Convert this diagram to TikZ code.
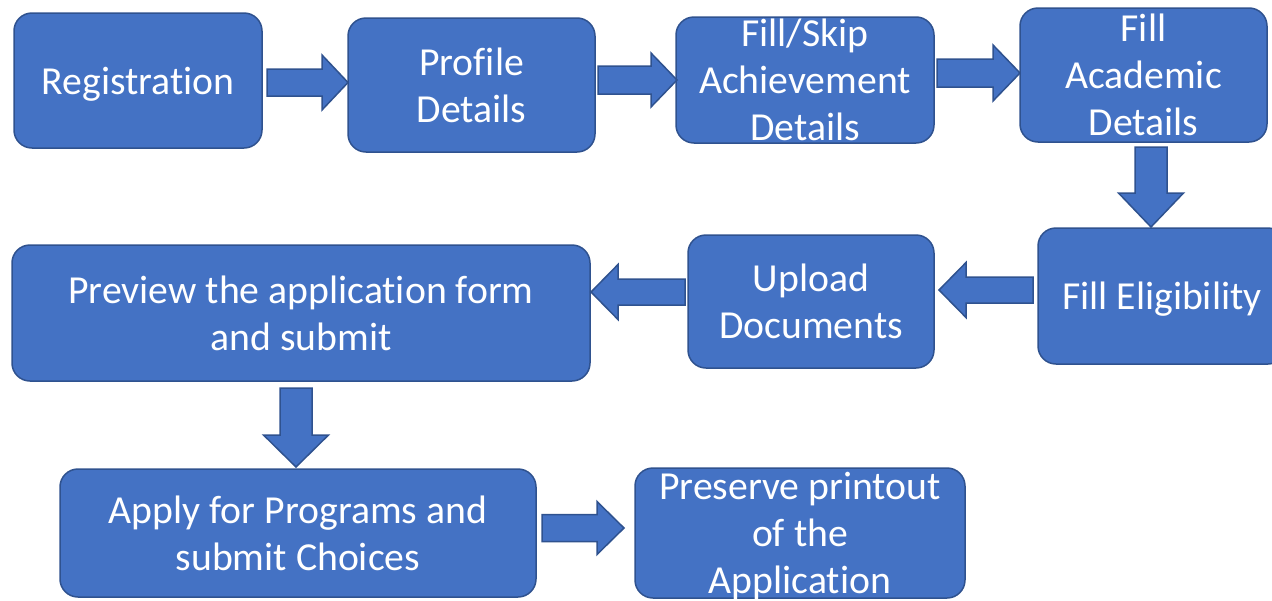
\documentclass[tikz,border=0pt]{standalone}
\usepackage{fontspec}
\setmainfont{Carlito}[Ligatures={NoCommon}]
\definecolor{boxfill}{HTML}{4472C4}
\definecolor{boxline}{HTML}{2F528F}
\tikzset{
  stepbox/.style={draw=boxline, fill=boxfill, line width=1.5pt, rounded corners=18pt,
    text=white, align=center, inner sep=0pt,
    font=\fontsize{39.7}{47}\selectfont},
  oneline/.style={text height=30pt, text depth=3pt},
  blockarrow/.style={draw=boxline, fill=boxfill, line width=1.5pt, line join=miter},
}
% horizontal block arrow: x1, x2 (tip), y, shaft half, head half, head length
\newcommand\myharrow[6]{%
  \pgfmathsetmacro\myhb{#2-#6*sign(#2-#1)}%
  \draw[blockarrow] (#1,#3-#4) -- (\myhb,#3-#4) -- (\myhb,#3-#5) -- (#2,#3)
    -- (\myhb,#3+#5) -- (\myhb,#3+#4) -- (#1,#3+#4) -- cycle;}
% vertical block arrow: x, y1, y2 (tip), shaft half, head half, head length
\newcommand\myvarrow[6]{%
  \pgfmathsetmacro\myvb{#3-#6*sign(#3-#2)}%
  \draw[blockarrow] (#1-#4,#2) -- (#1-#4,\myvb) -- (#1-#5,\myvb) -- (#1,#3)
    -- (#1+#5,\myvb) -- (#1+#4,\myvb) -- (#1+#4,#2) -- cycle;}
\begin{document}
\begin{tikzpicture}[x=1pt,y=-1pt]
\useasboundingbox (0,0) rectangle (1272,600);
% boxes
\node[stepbox, oneline, minimum width=248pt, minimum height=135pt] (reg) at (138,80.5) {Registration};
\node[stepbox, minimum width=247pt, minimum height=134pt] (prof) at (471.5,85) {Profile\\Details};
\node[stepbox, minimum width=258pt, minimum height=126pt] (ach) at (805,80) {Fill/Skip\\Achievement\\Details};
\node[stepbox, minimum width=247pt, minimum height=134pt] (acad) at (1143.5,75) {Fill\\Academic\\Details};
\node[stepbox, oneline, minimum width=248pt, minimum height=136pt] (elig) at (1162,296) {Fill Eligibility};
\node[stepbox, minimum width=246pt, minimum height=133pt] (upl) at (811,301.5) {Upload\\Documents};
\node[stepbox, minimum width=578pt, minimum height=136pt] (prev) at (301,313) {Preview the application form\\and submit};
\node[stepbox, minimum width=476pt, minimum height=128pt] (apply) at (298,533) {Apply for Programs and\\submit Choices};
\node[stepbox, minimum width=330pt, minimum height=130pt] (pres) at (800,533) {};
\node[text=white, align=center, inner sep=0pt, font=\fontsize{39.7}{47}\selectfont] (prestext) at (800,536) {Preserve printout\\of the\\Application};
% block arrows between boxes
\myharrow{267}{348}{82.5}{13.5}{27.5}{26}  % reg -> prof
\myharrow{598}{677}{80}{14}{27}{26}        % prof -> ach
\myharrow{937}{1020}{73}{14}{28}{27}       % ach -> acad
\myvarrow{1151}{147}{227}{16}{32.5}{34}    % acad -> elig
\myharrow{1033}{939}{290}{13}{27.5}{27}    % elig -> upl
\myharrow{685}{591}{292}{13}{27.5}{27}     % upl -> prev
\myvarrow{296}{388}{467}{16}{32.5}{32}     % prev -> apply
\myharrow{542}{624}{528}{13.5}{26.5}{27}   % apply -> pres
\end{tikzpicture}
\end{document}
